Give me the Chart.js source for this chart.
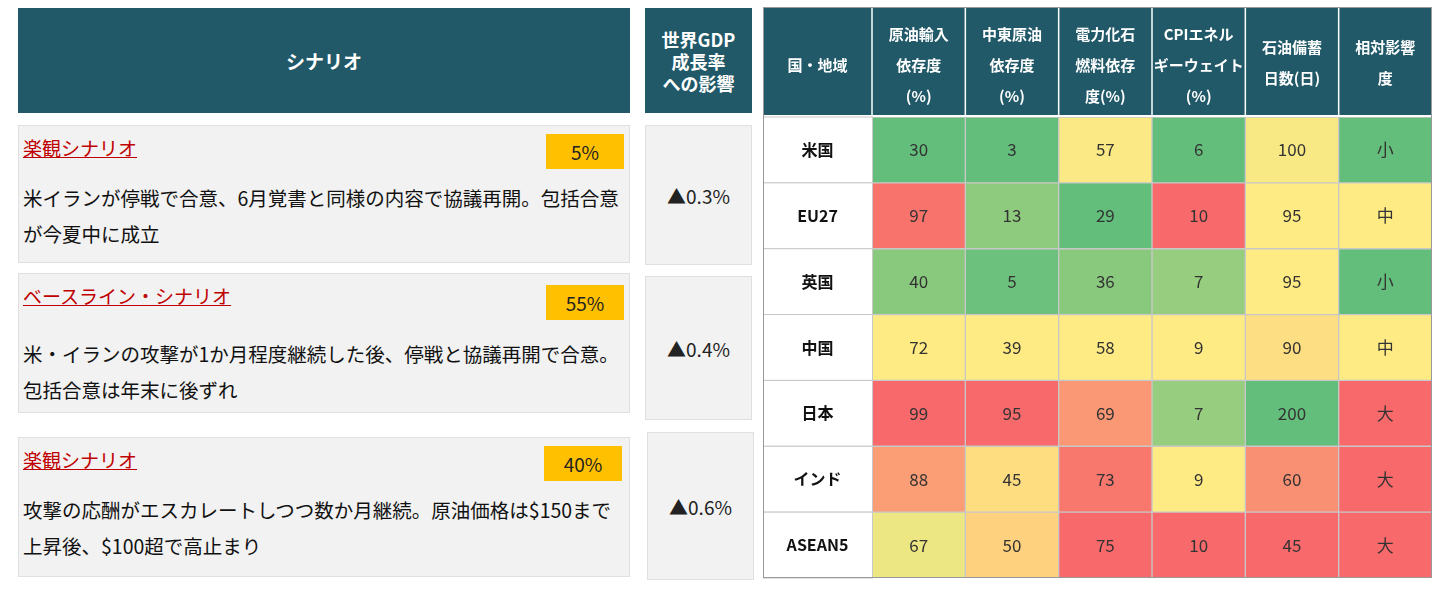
<!DOCTYPE html>
<html><head><meta charset="utf-8">
<script src="https://cdn.jsdelivr.net/npm/chart.js@4"></script>
<style>
body{margin:0;width:1440px;height:595px;background:#fff;font-family:"Noto Sans CJK JP","Noto Sans",sans-serif;position:relative;overflow:hidden}
.abs{position:absolute;box-sizing:border-box}
.head{background:#215968;color:#fff;font-weight:bold;display:flex;align-items:center;justify-content:center;text-align:center}
.box{background:#f2f2f2;border:1px solid #e0e0e0}
.gdp{background:#f2f2f2;border:1px solid #e0e0e0;display:flex;align-items:center;justify-content:center;font-size:19px;color:#222}
.lab{position:absolute;left:4px;top:8px;color:#c00000;font-size:19px;text-decoration:underline}
.badge{position:absolute;background:#ffc000;font-size:19px;text-align:center;line-height:35px;color:#222}
.txt{position:absolute;left:4px;top:54px;right:4px;font-size:19.5px;line-height:36px;color:#111}
</style></head><body>
<div class="abs head" style="left:18px;top:8px;width:612px;height:105px;font-size:19px">シナリオ</div>
<div class="abs head" style="left:645px;top:8px;width:107px;height:105px;font-size:18px;line-height:22px">世界GDP<br>成長率<br>への影響</div>

<div class="abs box" style="left:18px;top:125px;width:612px;height:138px">
 <div class="lab">楽観シナリオ</div><div class="badge" style="left:527px;top:8px;width:78px">5%</div>
 <div class="txt">米イランが停戦で合意、6月覚書と同様の内容で協議再開。包括合意が今夏中に成立</div></div>
<div class="abs box" style="left:18px;top:273px;width:612px;height:140px">
 <div class="lab">ベースライン・シナリオ</div><div class="badge" style="left:527px;top:11px;width:78px">55%</div>
 <div class="txt" style="top:62px">米・イランの攻撃が1か月程度継続した後、停戦と協議再開で合意。包括合意は年末に後ずれ</div></div>
<div class="abs box" style="left:18px;top:437px;width:612px;height:140px">
 <div class="lab">楽観シナリオ</div><div class="badge" style="left:525px;top:8px;width:78px">40%</div>
 <div class="txt">攻撃の応酬がエスカレートしつつ数か月継続。原油価格は$150まで上昇後、$100超で高止まり</div></div>

<div class="abs gdp" style="left:645px;top:125px;width:107px;height:140px">▲0.3%</div>
<div class="abs gdp" style="left:645px;top:276px;width:107px;height:144px">▲0.4%</div>
<div class="abs gdp" style="left:647px;top:432px;width:107px;height:148px">▲0.6%</div>

<canvas id="heat" class="abs" width="674" height="572" style="left:763px;top:7px;width:674px;height:572px"></canvas>
<script>
const countries = ['米国','EU27','英国','中国','日本','インド','ASEAN5'];
const headers = [['原油輸入','依存度','(%)'],['中東原油','依存度','(%)'],['電力化石','燃料依存','度(%)'],['CPIエネル','ギーウェイト','(%)'],['石油備蓄','日数(日)'],['相対影響','度']];
const oilImport = [30,97,40,72,99,88,67];
const middleEast = [3,13,5,39,95,45,50];
const fossilPower = [57,29,36,58,69,73,75];
const cpiEnergy = [6,10,7,9,7,9,10];
const reserveDays = [100,95,95,90,200,60,45];
const impactLabels = ['小','中','小','中','大','大','大'];
const impactLevel = [1,2,1,2,3,3,3];

const columns = [oilImport, middleEast, fossilPower, cpiEnergy, reserveDays, impactLevel];
const texts = [oilImport, middleEast, fossilPower, cpiEnergy, reserveDays, impactLabels];
const highIsGood = [false,false,false,false,true,false];

const G=[99,190,123], Y=[255,235,132], R=[248,105,107];
function mix(a,b,t){return 'rgb('+a.map((v,i)=>Math.round(v+(b[i]-v)*t)).join(',')+')';}
function colorScale(vals, good){
  const s=[...vals].sort((a,b)=>a-b), mn=s[0], mx=s[s.length-1], md=s[Math.floor(s.length/2)];
  return vals.map(v=>{
    let lo=good?R:G, hi=good?G:R;
    if(v<=md) return md===mn?mix(lo,Y,1):mix(lo,Y,(v-mn)/(md-mn));
    return mix(Y,hi,(v-md)/(mx-md));
  });
}

const datasets = columns.map((col,j)=>({
  data: countries.map(()=>1),
  backgroundColor: colorScale(col, highIsGood[j]),
  borderColor:'#c8c8c8', borderWidth:1, borderSkipped:false,
  barPercentage:1, categoryPercentage:1
}));

const COUNTRY_W=109, HEAD_H=110;
const tablePlugin = {
  id:'table',
  afterDraw(chart){
    const c=chart.ctx, a=chart.chartArea, x=chart.scales.x, y=chart.scales.y;
    c.save();
    c.fillStyle='#215968';
    c.fillRect(a.left-COUNTRY_W, 1, a.right-a.left+COUNTRY_W, HEAD_H-3);
    c.strokeStyle='#ffffff'; c.lineWidth=1.5;
    for(let j=0;j<=6;j++){const px=x.getPixelForValue(j); c.beginPath(); c.moveTo(px,1); c.lineTo(px,HEAD_H-2); c.stroke();}
    c.fillStyle='#fff'; c.textAlign='center'; c.textBaseline='middle';
    c.font='bold 15px "Noto Sans CJK JP"';
    c.fillText('国・地域', a.left-COUNTRY_W/2, 58);
    headers.forEach((h,j)=>{
      const cx=(x.getPixelForValue(j)+x.getPixelForValue(j+1))/2;
      const y0=h.length===3?27:40;
      h.forEach((t,k)=>c.fillText(t,cx,y0+k*31));
    });
    // country column
    countries.forEach((name,i)=>{
      const el=chart.getDatasetMeta(0).data[i];
      const top=el.y-el.height/2;
      c.fillStyle='#fff'; c.fillRect(a.left-COUNTRY_W,top,COUNTRY_W,el.height);
      c.strokeStyle='#c8c8c8'; c.lineWidth=1; c.strokeRect(a.left-COUNTRY_W+0.5,top,COUNTRY_W,el.height);
      c.fillStyle='#111'; c.font='bold 16px "Noto Sans CJK JP"';
      c.fillText(name,a.left-COUNTRY_W/2,el.y);
    });
    c.font='17px "Noto Sans CJK JP"'; c.fillStyle='#333';
    texts.forEach((col,j)=>{
      chart.getDatasetMeta(j).data.forEach((el,i)=>{
        c.fillText(String(col[i]), el.x-el.width/2, el.y);
      });
    });
    c.strokeStyle='#999'; c.strokeRect(a.left-COUNTRY_W+0.5,0.5,a.right-a.left+COUNTRY_W-1,a.bottom-1);
    c.restore();
  }
};

new Chart(document.getElementById('heat'),{
  type:'bar',
  data:{labels:countries, datasets},
  options:{
    indexAxis:'y', responsive:false, animation:false,
    layout:{padding:{left:COUNTRY_W, top:HEAD_H, right:5, bottom:1}},
    plugins:{legend:{display:false}, tooltip:{enabled:false}},
    scales:{
      x:{stacked:true, min:0, max:6, display:false},
      y:{stacked:true, display:false}
    }
  },
  plugins:[tablePlugin]
});
</script>
</body></html>
